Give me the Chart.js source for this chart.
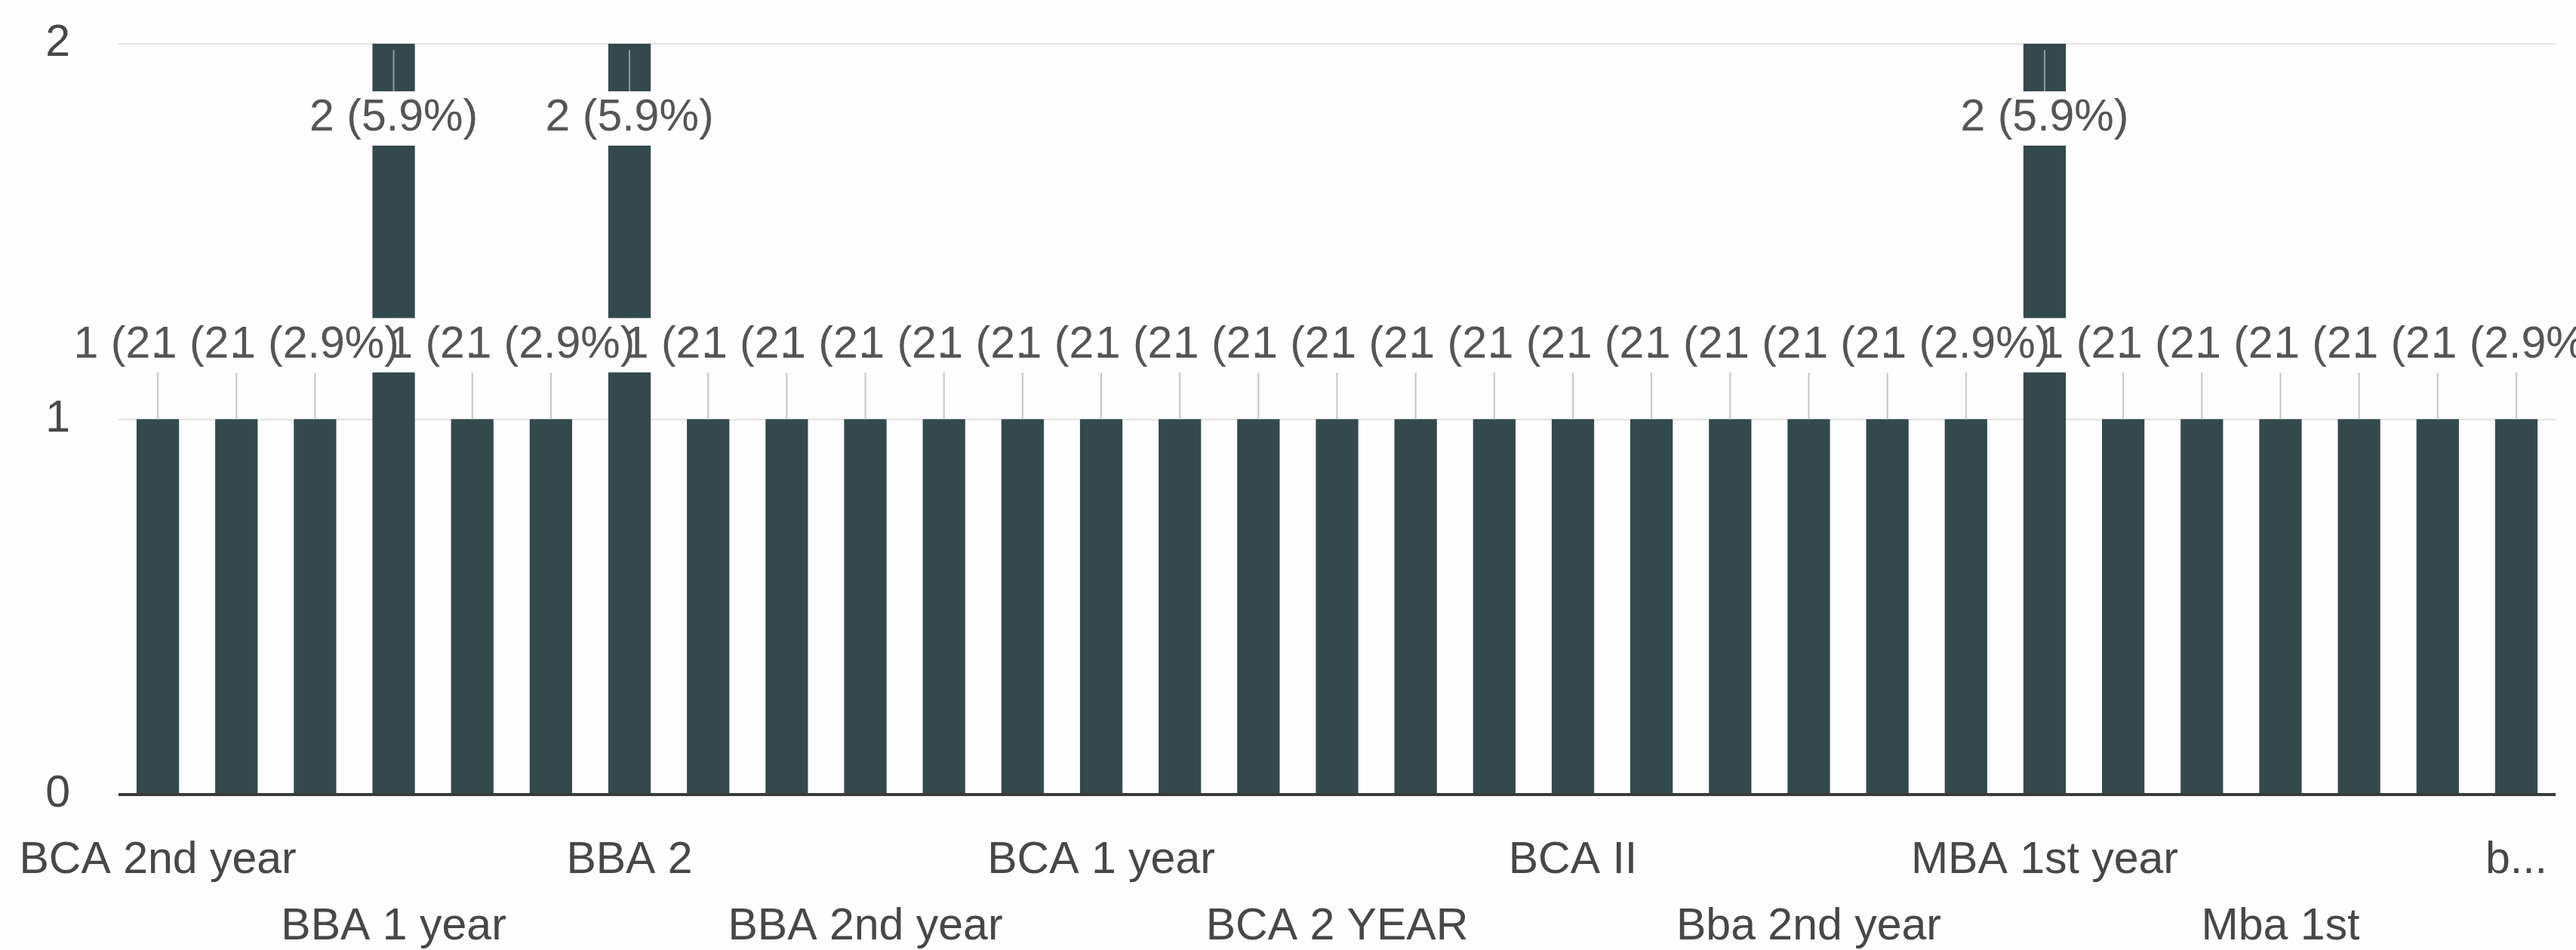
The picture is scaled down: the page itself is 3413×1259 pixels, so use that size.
<!DOCTYPE html>
<html>
<head>
<meta charset="utf-8">
<script src="https://cdn.jsdelivr.net/npm/chart.js@4.4.0/dist/chart.umd.min.js"></script>
<style>
  html, body { margin: 0; padding: 0; background: #fdfdfd; }
  #wrap { width: 3413px; height: 1259px; }
</style>
</head>
<body>
<div id="wrap"><canvas id="chart-canvas"></canvas></div>
<script>
// course answers, in the order the form shows them (only every 3rd name is readable)
const courses = [
  'BCA 2nd year', 'BCA 2nd Year', 'BBA 1st year', 'BBA 1 year', 'Bca 2nd year',
  'BCA 1st year', 'BBA 2', 'BBA 1st', 'Bca 1st year', 'BBA 2nd year',
  'BCA 1st', 'BCA 2', 'BCA 1 year', 'BBA 2nd', 'BCA 2nd',
  'BCA 2 YEAR', 'Bba 1st year', 'BBA 1', 'BCA II', 'BCA I',
  'BBA II', 'Bba 2nd year', 'MBA 1st', 'MBA 2nd year', 'MBA 1st year',
  'BBA 1st Year', 'Mba 1st year', 'Mba 1st', 'BCA 1st Year', 'MBA 1',
  'bba 1st year'
];
const responses = [
  1, 1, 1, 2, 1, 1, 2, 1, 1, 1,
  1, 1, 1, 1, 1, 1, 1, 1, 1, 1,
  1, 1, 1, 1, 2, 1, 1, 1, 1, 1,
  1
];
const yMin = 0;
const yMax = 2;
const yStep = 1;
const labelEvery = 3;

const FONT = '"Liberation Sans", Arial, sans-serif';

const annotationPlugin = {
  id: 'barAnnotations',
  afterDatasetsDraw(chart) {
    const ctx = chart.ctx;
    const meta = chart.getDatasetMeta(0);
    const total = responses.reduce((a, b) => a + b, 0);
    const top = chart.chartArea.top;
    ctx.save();
    ctx.font = '59px ' + FONT;
    ctx.textAlign = 'center';
    ctx.textBaseline = 'middle';
    const items = meta.data.map((bar, i) => {
      const v = responses[i];
      const text = v + ' (' + (v / total * 100).toFixed(1) + '%)';
      const inside = bar.y - 102 - 36 < top;
      const cy = inside ? bar.y + 99 : bar.y - 98;
      return { x: bar.x, y: bar.y, cy: cy, text: text, inside: inside };
    });
    // stems first
    ctx.lineWidth = 2;
    items.forEach(it => {
      ctx.beginPath();
      if (it.inside) {
        ctx.strokeStyle = '#8c9b9d';
        ctx.moveTo(it.x, it.y + 8);
        ctx.lineTo(it.x, it.cy - 36);
      } else {
        ctx.strokeStyle = '#c6c6c6';
        ctx.moveTo(it.x, it.cy + 36);
        ctx.lineTo(it.x, it.y);
      }
      ctx.stroke();
    });
    // labels, each box covers the one before it
    items.forEach(it => {
      const w = ctx.measureText(it.text).width;
      ctx.fillStyle = '#fdfdfd';
      ctx.fillRect(it.x - w / 2 + 11, it.cy - 36, w - 14, 72);
      ctx.fillStyle = '#555555';
      ctx.fillText(it.text, it.x, it.cy);
    });
    ctx.restore();
  }
};

const ctx = document.getElementById('chart-canvas');
new Chart(ctx, {
  type: 'bar',
  data: {
    labels: courses,
    datasets: [{
      data: responses,
      backgroundColor: '#34494c',
      borderWidth: 0,
      barPercentage: 0.54,
      categoryPercentage: 1.0
    }]
  },
  options: {
    responsive: true,
    maintainAspectRatio: false,
    animation: false,
    devicePixelRatio: 1,
    layout: { padding: { top: 58, right: 27, left: 0, bottom: 0 } },
    plugins: {
      legend: { display: false },
      tooltip: { enabled: false }
    },
    scales: {
      x: {
        grid: { display: false },
        border: { display: false },
        afterFit: scale => {
          scale.height = 206;
          scale.paddingLeft = 0;
          scale.paddingRight = 0;
        },
        ticks: {
          autoSkip: false,
          maxRotation: 0,
          minRotation: 0,
          padding: 35,
          color: '#474747',
          font: { family: FONT, size: 59, lineHeight: 1.5 },
          callback: function (val, i) {
            if (i % labelEvery !== 0) return '';
            let label = this.getLabelForValue(val);
            if (i === courses.length - 1) label = label.charAt(0) + '...';
            return (i / labelEvery) % 2 === 0 ? label : ['', label];
          }
        }
      },
      y: {
        min: yMin,
        max: yMax,
        border: { display: false },
        afterFit: scale => {
          scale.width = 157;
          scale.paddingTop = 0;
          scale.paddingBottom = 0;
        },
        grid: {
          drawTicks: false,
          color: c => c.tick.value === 0 ? '#3a3a3a' : '#e3e3e3',
          lineWidth: c => c.tick.value === 0 ? 4 : 2
        },
        ticks: {
          stepSize: yStep,
          padding: 64,
          color: '#474747',
          font: { family: FONT, size: 59 }
        }
      }
    }
  },
  plugins: [annotationPlugin]
});
</script>
</body>
</html>
